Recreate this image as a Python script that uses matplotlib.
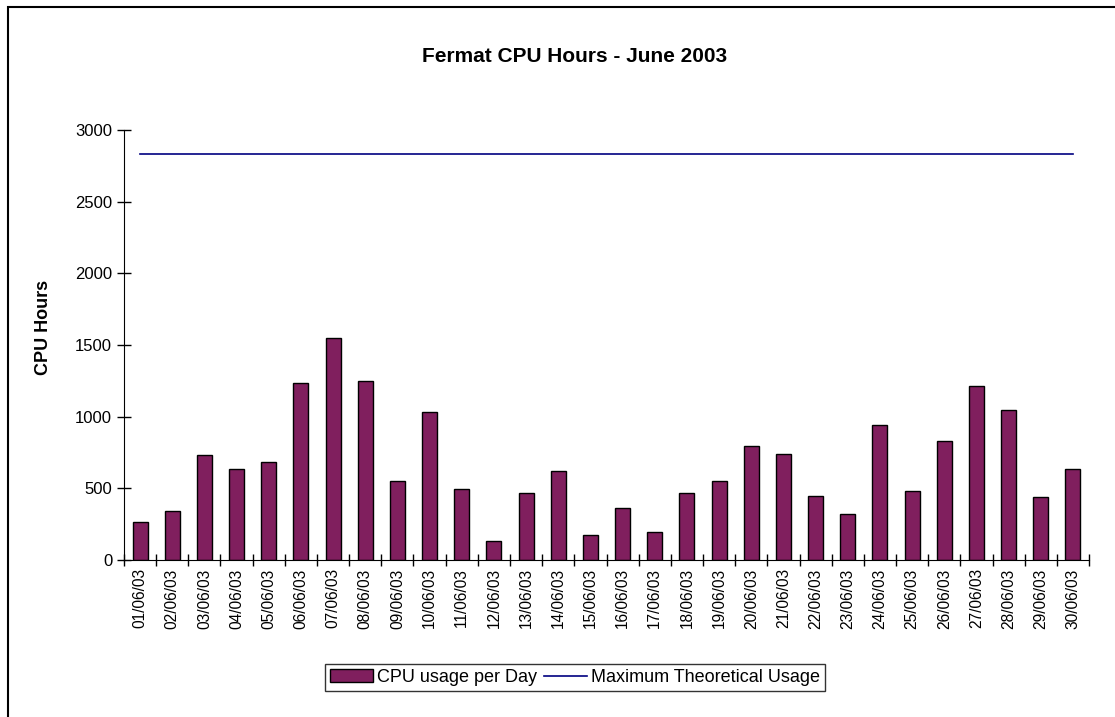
import matplotlib.pyplot as plt
from matplotlib.patches import Rectangle

plt.rcParams['font.family'] = ['Liberation Sans', 'DejaVu Sans']

# data
days = ['%02d/06/03' % d for d in range(1, 31)]
cpu_usage = [263, 344, 735, 637, 686, 1237, 1551, 1249, 551, 1033,
             498, 133, 470, 619, 174, 363, 193, 470, 551, 795,
             737, 449, 321, 944, 484, 833, 1216, 1049, 442, 637]
max_usage = [2833] * len(days)

fig = plt.figure(figsize=(11.15, 7.17), dpi=100)
ax = fig.add_axes([0.1112, 0.2190, 0.8655, 0.5997])

x = list(range(len(days)))
bars = ax.bar(x, cpu_usage, width=0.47, color='#801F5E', edgecolor='black',
              linewidth=1.0, label='CPU usage per Day')
line, = ax.plot(x, max_usage, color='#000080', linewidth=1.2,
                label='Maximum Theoretical Usage')

ax.set_xlim(-0.5, len(days) - 0.5)
ax.set_ylim(0, 3000)
ax.set_yticks(range(0, 3001, 500))
ax.tick_params(axis='y', labelsize=12, direction='inout', length=10, width=1)

# category labels in the middle, tick marks between categories
ax.set_xticks(x)
ax.set_xticklabels(days, rotation=90, fontsize=11.2)
ax.tick_params(axis='x', which='major', length=0, pad=6)
ax.set_xticks([i - 0.5 for i in range(len(days) + 1)], minor=True)
ax.tick_params(axis='x', which='minor', direction='inout', length=8, width=1)

for s in ['top', 'right']:
    ax.spines[s].set_visible(False)

fig.text(43 / 1115, 1 - 327 / 717, 'CPU Hours', rotation=90, fontsize=13,
         fontweight='bold', ha='center', va='center')
fig.text(575 / 1115, 1 - 57 / 717, 'Fermat CPU Hours - June 2003', fontsize=15,
         fontweight='bold', ha='center', va='center')

leg = fig.legend(handles=[bars, line], loc='center', ncol=2,
                 bbox_to_anchor=(575 / 1115, 1 - 677.5 / 717), fontsize=13,
                 frameon=True, fancybox=False, borderpad=0.3, columnspacing=0.4,
                 handlelength=2.4, handletextpad=0.2, borderaxespad=0)
leg.get_frame().set_edgecolor('black')
leg.get_frame().set_linewidth(1.0)

# outer chart border, cropped at right and bottom
fig.patches.append(Rectangle((8 / 1115, -0.1), 1.2, 1 - 7 / 717 + 0.1,
                             transform=fig.transFigure, fill=False,
                             edgecolor='black', linewidth=1.5))

fig.savefig('out.png', dpi=100)
